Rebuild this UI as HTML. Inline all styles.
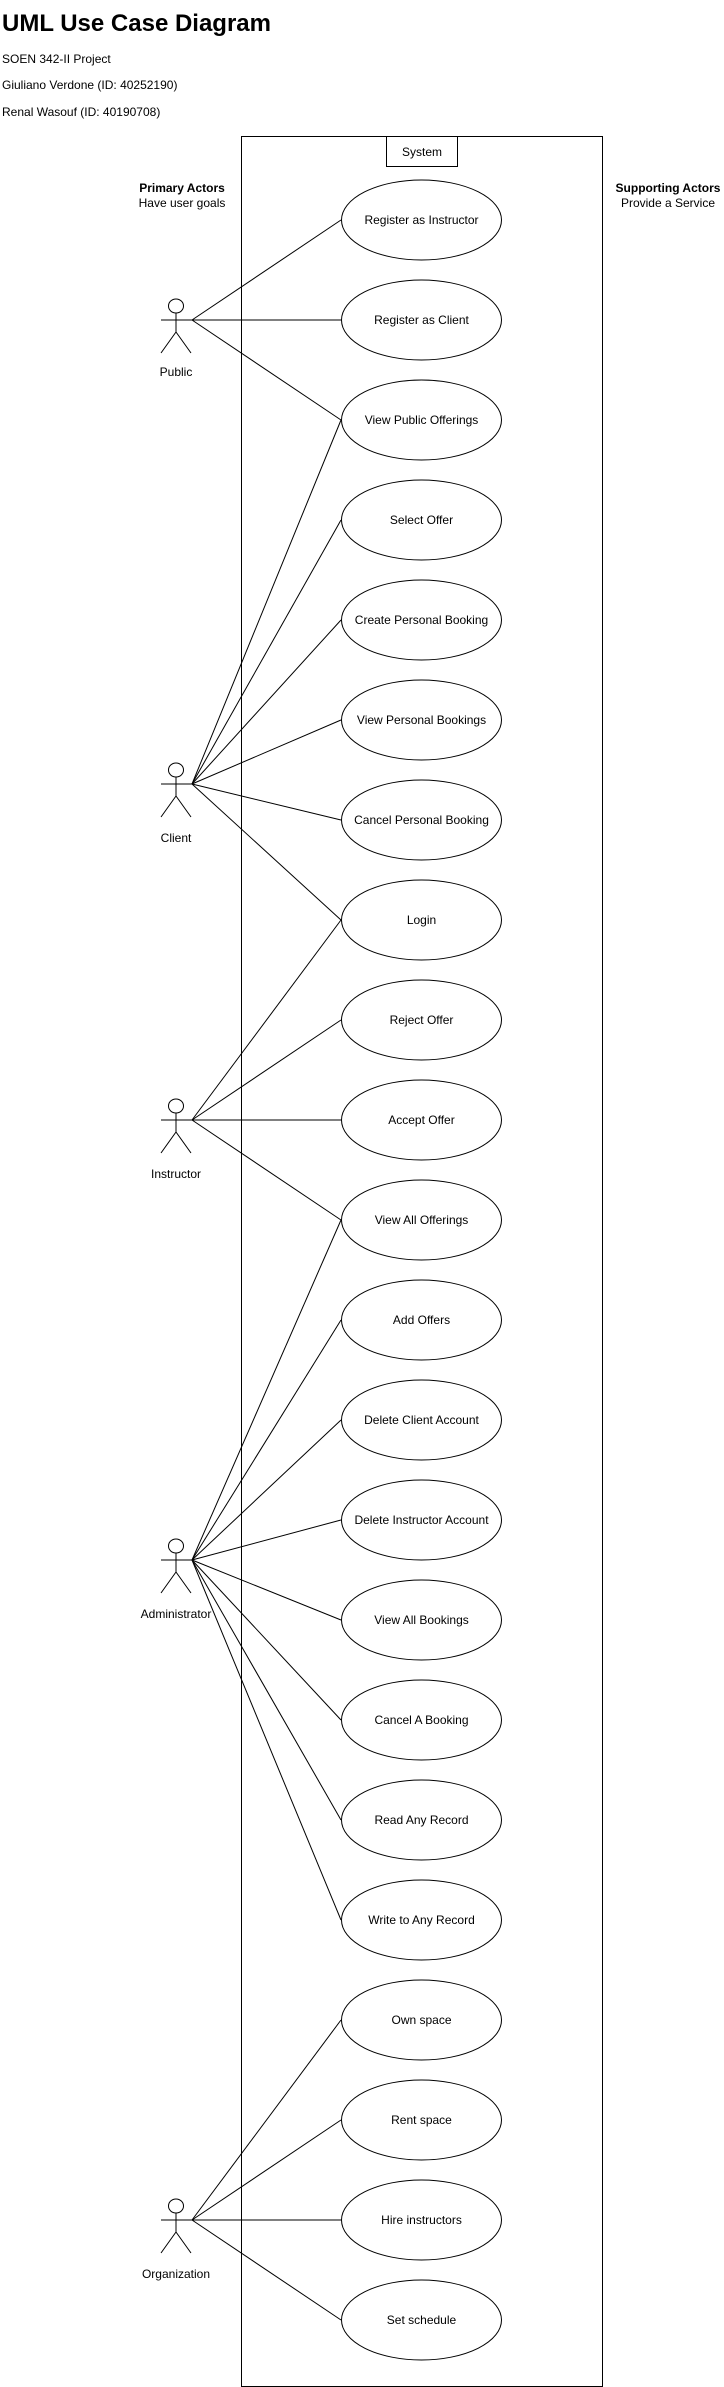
<!DOCTYPE html>
<html><head><meta charset="utf-8"><style>
body{margin:0;background:#fff;}
svg{display:block;font-family:"Liberation Sans",Arial,sans-serif;}
</style></head><body>
<svg width="724" height="2387" viewBox="0 0 724 2387" xmlns="http://www.w3.org/2000/svg">
<text x="2" y="31" font-size="24" font-weight="bold">UML Use Case Diagram</text>
<text x="2" y="63" font-size="12">SOEN 342-II Project</text>
<text x="2" y="89" font-size="12">Giuliano Verdone (ID: 40252190)</text>
<text x="2" y="116" font-size="12">Renal Wasouf (ID: 40190708)</text>
<g fill="none" stroke="#000" stroke-width="1">
<rect x="241.5" y="136.5" width="361" height="2250"/>
<rect x="386.5" y="136.5" width="71" height="30"/>
</g>
<text x="422" y="156" font-size="12" text-anchor="middle">System</text>
<text x="182" y="192" font-size="12" font-weight="bold" text-anchor="middle">Primary Actors</text>
<text x="182" y="207" font-size="12" text-anchor="middle">Have user goals</text>
<text x="668" y="192" font-size="12" font-weight="bold" text-anchor="middle">Supporting Actors</text>
<text x="668" y="207" font-size="12" text-anchor="middle">Provide a Service</text>
<g id="lines" stroke="#000" stroke-width="1" fill="none">
<!-- Public 320 -->
<line x1="192" y1="320" x2="341" y2="220"/>
<line x1="192" y1="320" x2="341" y2="320"/>
<line x1="192" y1="320" x2="341" y2="420"/>
<!-- Client 784 -->
<line x1="192" y1="784" x2="341" y2="420"/>
<line x1="192" y1="784" x2="341" y2="520"/>
<line x1="192" y1="784" x2="341" y2="620"/>
<line x1="192" y1="784" x2="341" y2="720"/>
<line x1="192" y1="784" x2="341" y2="820"/>
<line x1="192" y1="784" x2="341" y2="920"/>
<!-- Instructor 1120 -->
<line x1="192" y1="1120" x2="341" y2="920"/>
<line x1="192" y1="1120" x2="341" y2="1020"/>
<line x1="192" y1="1120" x2="341" y2="1120"/>
<line x1="192" y1="1120" x2="341" y2="1220"/>
<!-- Admin 1560 -->
<line x1="192" y1="1560" x2="341" y2="1220"/>
<line x1="192" y1="1560" x2="341" y2="1320"/>
<line x1="192" y1="1560" x2="341" y2="1420"/>
<line x1="192" y1="1560" x2="341" y2="1520"/>
<line x1="192" y1="1560" x2="341" y2="1620"/>
<line x1="192" y1="1560" x2="341" y2="1720"/>
<line x1="192" y1="1560" x2="341" y2="1820"/>
<line x1="192" y1="1560" x2="341" y2="1920"/>
<!-- Org 2220 -->
<line x1="192" y1="2220" x2="341" y2="2020"/>
<line x1="192" y1="2220" x2="341" y2="2120"/>
<line x1="192" y1="2220" x2="341" y2="2220"/>
<line x1="192" y1="2220" x2="341" y2="2320"/>
</g>
<g fill="#fff" stroke="#000" stroke-width="1">
<ellipse cx="421.5" cy="220" rx="80" ry="40"/>
<ellipse cx="421.5" cy="320" rx="80" ry="40"/>
<ellipse cx="421.5" cy="420" rx="80" ry="40"/>
<ellipse cx="421.5" cy="520" rx="80" ry="40"/>
<ellipse cx="421.5" cy="620" rx="80" ry="40"/>
<ellipse cx="421.5" cy="720" rx="80" ry="40"/>
<ellipse cx="421.5" cy="820" rx="80" ry="40"/>
<ellipse cx="421.5" cy="920" rx="80" ry="40"/>
<ellipse cx="421.5" cy="1020" rx="80" ry="40"/>
<ellipse cx="421.5" cy="1120" rx="80" ry="40"/>
<ellipse cx="421.5" cy="1220" rx="80" ry="40"/>
<ellipse cx="421.5" cy="1320" rx="80" ry="40"/>
<ellipse cx="421.5" cy="1420" rx="80" ry="40"/>
<ellipse cx="421.5" cy="1520" rx="80" ry="40"/>
<ellipse cx="421.5" cy="1620" rx="80" ry="40"/>
<ellipse cx="421.5" cy="1720" rx="80" ry="40"/>
<ellipse cx="421.5" cy="1820" rx="80" ry="40"/>
<ellipse cx="421.5" cy="1920" rx="80" ry="40"/>
<ellipse cx="421.5" cy="2020" rx="80" ry="40"/>
<ellipse cx="421.5" cy="2120" rx="80" ry="40"/>
<ellipse cx="421.5" cy="2220" rx="80" ry="40"/>
<ellipse cx="421.5" cy="2320" rx="80" ry="40"/>
</g>
<g font-size="12" text-anchor="middle">
<text x="421.5" y="224">Register as Instructor</text>
<text x="421.5" y="324">Register as Client</text>
<text x="421.5" y="424">View Public Offerings</text>
<text x="421.5" y="524">Select Offer</text>
<text x="421.5" y="624">Create Personal Booking</text>
<text x="421.5" y="724">View Personal Bookings</text>
<text x="421.5" y="824">Cancel Personal Booking</text>
<text x="421.5" y="924">Login</text>
<text x="421.5" y="1024">Reject Offer</text>
<text x="421.5" y="1124">Accept Offer</text>
<text x="421.5" y="1224">View All Offerings</text>
<text x="421.5" y="1324">Add Offers</text>
<text x="421.5" y="1424">Delete Client Account</text>
<text x="421.5" y="1524">Delete Instructor Account</text>
<text x="421.5" y="1624">View All Bookings</text>
<text x="421.5" y="1724">Cancel A Booking</text>
<text x="421.5" y="1824">Read Any Record</text>
<text x="421.5" y="1924">Write to Any Record</text>
<text x="421.5" y="2024">Own space</text>
<text x="421.5" y="2124">Rent space</text>
<text x="421.5" y="2224">Hire instructors</text>
<text x="421.5" y="2324">Set schedule</text>
</g>
<g fill="#fff" stroke="#000" stroke-width="1">
<g transform="translate(176,320)"><ellipse cx="0" cy="-14" rx="7.5" ry="7"/><path d="M0,-7V12M-15,0H16M0,12L-15,33M0,12L15,33" fill="none"/></g>
<g transform="translate(176,784)"><ellipse cx="0" cy="-14" rx="7.5" ry="7"/><path d="M0,-7V12M-15,0H16M0,12L-15,33M0,12L15,33" fill="none"/></g>
<g transform="translate(176,1120)"><ellipse cx="0" cy="-14" rx="7.5" ry="7"/><path d="M0,-7V12M-15,0H16M0,12L-15,33M0,12L15,33" fill="none"/></g>
<g transform="translate(176,1560)"><ellipse cx="0" cy="-14" rx="7.5" ry="7"/><path d="M0,-7V12M-15,0H16M0,12L-15,33M0,12L15,33" fill="none"/></g>
<g transform="translate(176,2220)"><ellipse cx="0" cy="-14" rx="7.5" ry="7"/><path d="M0,-7V12M-15,0H16M0,12L-15,33M0,12L15,33" fill="none"/></g>
</g>
<g font-size="12" text-anchor="middle">
<text x="176" y="376">Public</text>
<text x="176" y="842">Client</text>
<text x="176" y="1178">Instructor</text>
<text x="176" y="1618">Administrator</text>
<text x="176" y="2278">Organization</text>
</g>
</svg>
</body></html>
